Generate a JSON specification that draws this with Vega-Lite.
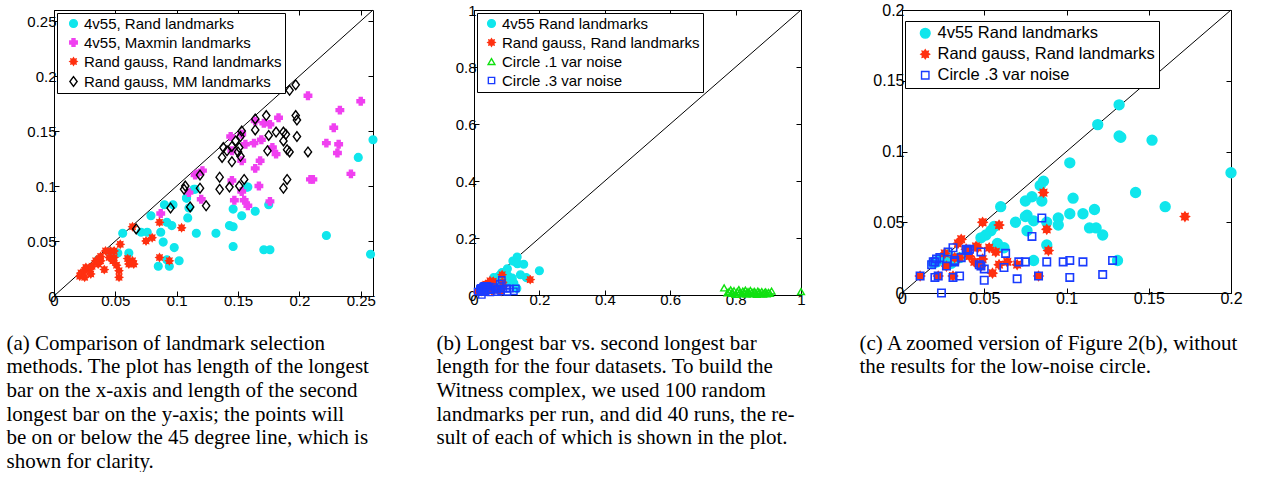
{
"$schema": "https://vega.github.io/schema/vega-lite/v6.json",
"padding": {"left": 5, "top": 1, "right": 0, "bottom": 0},
"background": "white",
"config": {
  "font": "Liberation Sans",
  "view": {"stroke": "black", "strokeWidth": 1},
  "axis": {"grid": false, "domainColor": "black", "tickColor": "black", "labelColor": "black", "labelFontSize": 15, "labelFont": "Liberation Sans", "tickSize": -5, "labelFlush": false, "labelOverlap": false},
  "axisX": {"labelPadding": 2},
  "axisY": {"labelPadding": 3},
  "legend": {"labelLimit": 400},
  "line": {"clip": true}
},
"datasets": {
  "a": [
    {"s":"4v55, Rand landmarks","x":0.036,"y":0.033},{"s":"4v55, Rand landmarks","x":0.052,"y":0.039},{"s":"4v55, Rand landmarks","x":0.061,"y":0.039},{"s":"4v55, Rand landmarks","x":0.056,"y":0.057},{"s":"4v55, Rand landmarks","x":0.071,"y":0.058},{"s":"4v55, Rand landmarks","x":0.076,"y":0.058},{"s":"4v55, Rand landmarks","x":0.079,"y":0.073},{"s":"4v55, Rand landmarks","x":0.087,"y":0.058},{"s":"4v55, Rand landmarks","x":0.089,"y":0.049},{"s":"4v55, Rand landmarks","x":0.092,"y":0.067},{"s":"4v55, Rand landmarks","x":0.096,"y":0.064},{"s":"4v55, Rand landmarks","x":0.090,"y":0.083},{"s":"4v55, Rand landmarks","x":0.097,"y":0.083},{"s":"4v55, Rand landmarks","x":0.108,"y":0.089},{"s":"4v55, Rand landmarks","x":0.109,"y":0.071},{"s":"4v55, Rand landmarks","x":0.110,"y":0.080},{"s":"4v55, Rand landmarks","x":0.116,"y":0.057},{"s":"4v55, Rand landmarks","x":0.098,"y":0.044},{"s":"4v55, Rand landmarks","x":0.102,"y":0.032},{"s":"4v55, Rand landmarks","x":0.092,"y":0.033},{"s":"4v55, Rand landmarks","x":0.085,"y":0.027},{"s":"4v55, Rand landmarks","x":0.094,"y":0.027},{"s":"4v55, Rand landmarks","x":0.132,"y":0.057},{"s":"4v55, Rand landmarks","x":0.143,"y":0.064},{"s":"4v55, Rand landmarks","x":0.146,"y":0.079},{"s":"4v55, Rand landmarks","x":0.153,"y":0.073},{"s":"4v55, Rand landmarks","x":0.164,"y":0.077},{"s":"4v55, Rand landmarks","x":0.175,"y":0.083},{"s":"4v55, Rand landmarks","x":0.158,"y":0.099},{"s":"4v55, Rand landmarks","x":0.146,"y":0.063},{"s":"4v55, Rand landmarks","x":0.146,"y":0.045},{"s":"4v55, Rand landmarks","x":0.171,"y":0.042},{"s":"4v55, Rand landmarks","x":0.176,"y":0.042},{"s":"4v55, Rand landmarks","x":0.222,"y":0.055},{"s":"4v55, Rand landmarks","x":0.258,"y":0.038},{"s":"4v55, Rand landmarks","x":0.115,"y":0.097},{"s":"4v55, Rand landmarks","x":0.260,"y":0.142},{"s":"4v55, Rand landmarks","x":0.248,"y":0.126},{"s":"4v55, Rand landmarks","x":0.045,"y":0.040},{"s":"4v55, Rand landmarks","x":0.114,"y":0.097},{"s":"4v55, Rand landmarks","x":0.157,"y":0.099},{"s":"4v55, Rand landmarks","x":0.108,"y":0.089},
    {"s":"4v55, Maxmin landmarks","x":0.207,"y":0.182},{"s":"4v55, Maxmin landmarks","x":0.250,"y":0.177},{"s":"4v55, Maxmin landmarks","x":0.233,"y":0.169},{"s":"4v55, Maxmin landmarks","x":0.228,"y":0.153},{"s":"4v55, Maxmin landmarks","x":0.222,"y":0.139},{"s":"4v55, Maxmin landmarks","x":0.232,"y":0.138},{"s":"4v55, Maxmin landmarks","x":0.231,"y":0.130},{"s":"4v55, Maxmin landmarks","x":0.242,"y":0.111},{"s":"4v55, Maxmin landmarks","x":0.211,"y":0.106},{"s":"4v55, Maxmin landmarks","x":0.183,"y":0.162},{"s":"4v55, Maxmin landmarks","x":0.176,"y":0.156},{"s":"4v55, Maxmin landmarks","x":0.171,"y":0.157},{"s":"4v55, Maxmin landmarks","x":0.164,"y":0.159},{"s":"4v55, Maxmin landmarks","x":0.169,"y":0.142},{"s":"4v55, Maxmin landmarks","x":0.163,"y":0.139},{"s":"4v55, Maxmin landmarks","x":0.156,"y":0.138},{"s":"4v55, Maxmin landmarks","x":0.153,"y":0.147},{"s":"4v55, Maxmin landmarks","x":0.144,"y":0.145},{"s":"4v55, Maxmin landmarks","x":0.168,"y":0.123},{"s":"4v55, Maxmin landmarks","x":0.164,"y":0.116},{"s":"4v55, Maxmin landmarks","x":0.153,"y":0.123},{"s":"4v55, Maxmin landmarks","x":0.178,"y":0.135},{"s":"4v55, Maxmin landmarks","x":0.181,"y":0.129},{"s":"4v55, Maxmin landmarks","x":0.145,"y":0.105},{"s":"4v55, Maxmin landmarks","x":0.121,"y":0.114},{"s":"4v55, Maxmin landmarks","x":0.115,"y":0.110},{"s":"4v55, Maxmin landmarks","x":0.145,"y":0.132},{"s":"4v55, Maxmin landmarks","x":0.153,"y":0.095},{"s":"4v55, Maxmin landmarks","x":0.147,"y":0.087},{"s":"4v55, Maxmin landmarks","x":0.155,"y":0.087},{"s":"4v55, Maxmin landmarks","x":0.158,"y":0.082},{"s":"4v55, Maxmin landmarks","x":0.176,"y":0.086},{"s":"4v55, Maxmin landmarks","x":0.120,"y":0.088},{"s":"4v55, Maxmin landmarks","x":0.110,"y":0.094},{"s":"4v55, Maxmin landmarks","x":0.087,"y":0.075},{"s":"4v55, Maxmin landmarks","x":0.167,"y":0.100},{"s":"4v55, Maxmin landmarks","x":0.117,"y":0.111},{"s":"4v55, Maxmin landmarks","x":0.209,"y":0.106},
    {"s":"Rand gauss, Rand landmarks","x":0.021,"y":0.018},{"s":"Rand gauss, Rand landmarks","x":0.022,"y":0.021},{"s":"Rand gauss, Rand landmarks","x":0.025,"y":0.023},{"s":"Rand gauss, Rand landmarks","x":0.029,"y":0.024},{"s":"Rand gauss, Rand landmarks","x":0.030,"y":0.020},{"s":"Rand gauss, Rand landmarks","x":0.026,"y":0.026},{"s":"Rand gauss, Rand landmarks","x":0.031,"y":0.027},{"s":"Rand gauss, Rand landmarks","x":0.034,"y":0.032},{"s":"Rand gauss, Rand landmarks","x":0.037,"y":0.034},{"s":"Rand gauss, Rand landmarks","x":0.038,"y":0.036},{"s":"Rand gauss, Rand landmarks","x":0.036,"y":0.029},{"s":"Rand gauss, Rand landmarks","x":0.041,"y":0.024},{"s":"Rand gauss, Rand landmarks","x":0.042,"y":0.041},{"s":"Rand gauss, Rand landmarks","x":0.046,"y":0.041},{"s":"Rand gauss, Rand landmarks","x":0.049,"y":0.041},{"s":"Rand gauss, Rand landmarks","x":0.045,"y":0.035},{"s":"Rand gauss, Rand landmarks","x":0.049,"y":0.035},{"s":"Rand gauss, Rand landmarks","x":0.048,"y":0.032},{"s":"Rand gauss, Rand landmarks","x":0.051,"y":0.028},{"s":"Rand gauss, Rand landmarks","x":0.053,"y":0.023},{"s":"Rand gauss, Rand landmarks","x":0.053,"y":0.017},{"s":"Rand gauss, Rand landmarks","x":0.054,"y":0.047},{"s":"Rand gauss, Rand landmarks","x":0.060,"y":0.034},{"s":"Rand gauss, Rand landmarks","x":0.064,"y":0.032},{"s":"Rand gauss, Rand landmarks","x":0.065,"y":0.029},{"s":"Rand gauss, Rand landmarks","x":0.061,"y":0.029},{"s":"Rand gauss, Rand landmarks","x":0.064,"y":0.063},{"s":"Rand gauss, Rand landmarks","x":0.075,"y":0.050},{"s":"Rand gauss, Rand landmarks","x":0.080,"y":0.053},{"s":"Rand gauss, Rand landmarks","x":0.086,"y":0.067},{"s":"Rand gauss, Rand landmarks","x":0.086,"y":0.035},{"s":"Rand gauss, Rand landmarks","x":0.094,"y":0.032},{"s":"Rand gauss, Rand landmarks","x":0.104,"y":0.062},{"s":"Rand gauss, Rand landmarks","x":0.038,"y":0.032},{"s":"Rand gauss, Rand landmarks","x":0.025,"y":0.017},
    {"s":"Rand gauss, MM landmarks","x":0.197,"y":0.192},{"s":"Rand gauss, MM landmarks","x":0.192,"y":0.187},{"s":"Rand gauss, MM landmarks","x":0.173,"y":0.164},{"s":"Rand gauss, MM landmarks","x":0.197,"y":0.164},{"s":"Rand gauss, MM landmarks","x":0.198,"y":0.160},{"s":"Rand gauss, MM landmarks","x":0.164,"y":0.161},{"s":"Rand gauss, MM landmarks","x":0.164,"y":0.151},{"s":"Rand gauss, MM landmarks","x":0.153,"y":0.150},{"s":"Rand gauss, MM landmarks","x":0.152,"y":0.145},{"s":"Rand gauss, MM landmarks","x":0.175,"y":0.146},{"s":"Rand gauss, MM landmarks","x":0.181,"y":0.149},{"s":"Rand gauss, MM landmarks","x":0.187,"y":0.149},{"s":"Rand gauss, MM landmarks","x":0.189,"y":0.147},{"s":"Rand gauss, MM landmarks","x":0.187,"y":0.141},{"s":"Rand gauss, MM landmarks","x":0.198,"y":0.145},{"s":"Rand gauss, MM landmarks","x":0.148,"y":0.141},{"s":"Rand gauss, MM landmarks","x":0.145,"y":0.136},{"s":"Rand gauss, MM landmarks","x":0.141,"y":0.132},{"s":"Rand gauss, MM landmarks","x":0.138,"y":0.135},{"s":"Rand gauss, MM landmarks","x":0.151,"y":0.135},{"s":"Rand gauss, MM landmarks","x":0.150,"y":0.131},{"s":"Rand gauss, MM landmarks","x":0.152,"y":0.127},{"s":"Rand gauss, MM landmarks","x":0.137,"y":0.126},{"s":"Rand gauss, MM landmarks","x":0.145,"y":0.122},{"s":"Rand gauss, MM landmarks","x":0.174,"y":0.132},{"s":"Rand gauss, MM landmarks","x":0.190,"y":0.133},{"s":"Rand gauss, MM landmarks","x":0.192,"y":0.131},{"s":"Rand gauss, MM landmarks","x":0.207,"y":0.131},{"s":"Rand gauss, MM landmarks","x":0.119,"y":0.110},{"s":"Rand gauss, MM landmarks","x":0.119,"y":0.098},{"s":"Rand gauss, MM landmarks","x":0.135,"y":0.108},{"s":"Rand gauss, MM landmarks","x":0.135,"y":0.097},{"s":"Rand gauss, MM landmarks","x":0.143,"y":0.099},{"s":"Rand gauss, MM landmarks","x":0.155,"y":0.106},{"s":"Rand gauss, MM landmarks","x":0.151,"y":0.100},{"s":"Rand gauss, MM landmarks","x":0.190,"y":0.106},{"s":"Rand gauss, MM landmarks","x":0.187,"y":0.098},{"s":"Rand gauss, MM landmarks","x":0.107,"y":0.100},{"s":"Rand gauss, MM landmarks","x":0.106,"y":0.097},{"s":"Rand gauss, MM landmarks","x":0.111,"y":0.081},{"s":"Rand gauss, MM landmarks","x":0.124,"y":0.082},{"s":"Rand gauss, MM landmarks","x":0.095,"y":0.080},{"s":"Rand gauss, MM landmarks","x":0.067,"y":0.061}
  ],
  "bc": [
    {"s":"4v55 Rand landmarks","x":0.200,"y":0.085},{"s":"4v55 Rand landmarks","x":0.102,"y":0.092},{"s":"4v55 Rand landmarks","x":0.142,"y":0.071},{"s":"4v55 Rand landmarks","x":0.160,"y":0.061},{"s":"4v55 Rand landmarks","x":0.104,"y":0.067},{"s":"4v55 Rand landmarks","x":0.117,"y":0.059},{"s":"4v55 Rand landmarks","x":0.110,"y":0.056},{"s":"4v55 Rand landmarks","x":0.102,"y":0.056},{"s":"4v55 Rand landmarks","x":0.114,"y":0.046},{"s":"4v55 Rand landmarks","x":0.118,"y":0.046},{"s":"4v55 Rand landmarks","x":0.122,"y":0.041},{"s":"4v55 Rand landmarks","x":0.095,"y":0.053},{"s":"4v55 Rand landmarks","x":0.095,"y":0.048},{"s":"4v55 Rand landmarks","x":0.086,"y":0.079},{"s":"4v55 Rand landmarks","x":0.084,"y":0.076},{"s":"4v55 Rand landmarks","x":0.079,"y":0.068},{"s":"4v55 Rand landmarks","x":0.075,"y":0.065},{"s":"4v55 Rand landmarks","x":0.085,"y":0.065},{"s":"4v55 Rand landmarks","x":0.076,"y":0.055},{"s":"4v55 Rand landmarks","x":0.075,"y":0.054},{"s":"4v55 Rand landmarks","x":0.069,"y":0.050},{"s":"4v55 Rand landmarks","x":0.080,"y":0.051},{"s":"4v55 Rand landmarks","x":0.076,"y":0.044},{"s":"4v55 Rand landmarks","x":0.088,"y":0.050},{"s":"4v55 Rand landmarks","x":0.088,"y":0.034},{"s":"4v55 Rand landmarks","x":0.060,"y":0.061},{"s":"4v55 Rand landmarks","x":0.056,"y":0.047},{"s":"4v55 Rand landmarks","x":0.054,"y":0.044},{"s":"4v55 Rand landmarks","x":0.051,"y":0.041},{"s":"4v55 Rand landmarks","x":0.048,"y":0.039},{"s":"4v55 Rand landmarks","x":0.058,"y":0.035},{"s":"4v55 Rand landmarks","x":0.062,"y":0.032},{"s":"4v55 Rand landmarks","x":0.080,"y":0.023},{"s":"4v55 Rand landmarks","x":0.131,"y":0.023},{"s":"4v55 Rand landmarks","x":0.132,"y":0.133},{"s":"4v55 Rand landmarks","x":0.119,"y":0.119},{"s":"4v55 Rand landmarks","x":0.133,"y":0.110},{"s":"4v55 Rand landmarks","x":0.132,"y":0.111},{"s":"4v55 Rand landmarks","x":0.152,"y":0.108},{"s":"4v55 Rand landmarks","x":0.019,"y":0.021},{"s":"4v55 Rand landmarks","x":0.021,"y":0.022},{"s":"4v55 Rand landmarks","x":0.023,"y":0.024},{"s":"4v55 Rand landmarks","x":0.025,"y":0.025},{"s":"4v55 Rand landmarks","x":0.028,"y":0.027},{"s":"4v55 Rand landmarks","x":0.035,"y":0.025},{"s":"4v55 Rand landmarks","x":0.030,"y":0.021},
    {"s":"Rand gauss, Rand landmarks","x":0.172,"y":0.054},{"s":"Rand gauss, Rand landmarks","x":0.086,"y":0.071},{"s":"Rand gauss, Rand landmarks","x":0.088,"y":0.045},{"s":"Rand gauss, Rand landmarks","x":0.089,"y":0.030},{"s":"Rand gauss, Rand landmarks","x":0.059,"y":0.048},{"s":"Rand gauss, Rand landmarks","x":0.049,"y":0.050},{"s":"Rand gauss, Rand landmarks","x":0.036,"y":0.038},{"s":"Rand gauss, Rand landmarks","x":0.053,"y":0.032},{"s":"Rand gauss, Rand landmarks","x":0.057,"y":0.029},{"s":"Rand gauss, Rand landmarks","x":0.064,"y":0.022},{"s":"Rand gauss, Rand landmarks","x":0.059,"y":0.020},{"s":"Rand gauss, Rand landmarks","x":0.055,"y":0.014},{"s":"Rand gauss, Rand landmarks","x":0.070,"y":0.020},{"s":"Rand gauss, Rand landmarks","x":0.083,"y":0.012},{"s":"Rand gauss, Rand landmarks","x":0.049,"y":0.024},{"s":"Rand gauss, Rand landmarks","x":0.041,"y":0.026},{"s":"Rand gauss, Rand landmarks","x":0.044,"y":0.022},{"s":"Rand gauss, Rand landmarks","x":0.046,"y":0.032},{"s":"Rand gauss, Rand landmarks","x":0.039,"y":0.031},{"s":"Rand gauss, Rand landmarks","x":0.032,"y":0.025},{"s":"Rand gauss, Rand landmarks","x":0.027,"y":0.019},{"s":"Rand gauss, Rand landmarks","x":0.011,"y":0.012},{"s":"Rand gauss, Rand landmarks","x":0.031,"y":0.012},{"s":"Rand gauss, Rand landmarks","x":0.035,"y":0.025},{"s":"Rand gauss, Rand landmarks","x":0.022,"y":0.012},{"s":"Rand gauss, Rand landmarks","x":0.045,"y":0.033},{"s":"Rand gauss, Rand landmarks","x":0.026,"y":0.028},{"s":"Rand gauss, Rand landmarks","x":0.048,"y":0.019},{"s":"Rand gauss, Rand landmarks","x":0.034,"y":0.035},{"s":"Rand gauss, Rand landmarks","x":0.040,"y":0.030},
    {"s":"Circle .1 var noise","x":0.765,"y":0.025},{"s":"Circle .1 var noise","x":0.780,"y":0.012},{"s":"Circle .1 var noise","x":0.785,"y":0.018},{"s":"Circle .1 var noise","x":0.790,"y":0.006},{"s":"Circle .1 var noise","x":0.795,"y":0.015},{"s":"Circle .1 var noise","x":0.800,"y":0.002},{"s":"Circle .1 var noise","x":0.805,"y":0.012},{"s":"Circle .1 var noise","x":0.810,"y":0.019},{"s":"Circle .1 var noise","x":0.812,"y":0.008},{"s":"Circle .1 var noise","x":0.818,"y":0.004},{"s":"Circle .1 var noise","x":0.822,"y":0.014},{"s":"Circle .1 var noise","x":0.826,"y":0.010},{"s":"Circle .1 var noise","x":0.830,"y":0.017},{"s":"Circle .1 var noise","x":0.834,"y":0.003},{"s":"Circle .1 var noise","x":0.838,"y":0.012},{"s":"Circle .1 var noise","x":0.842,"y":0.007},{"s":"Circle .1 var noise","x":0.845,"y":0.016},{"s":"Circle .1 var noise","x":0.850,"y":0.010},{"s":"Circle .1 var noise","x":0.853,"y":0.004},{"s":"Circle .1 var noise","x":0.857,"y":0.013},{"s":"Circle .1 var noise","x":0.860,"y":0.008},{"s":"Circle .1 var noise","x":0.865,"y":0.002},{"s":"Circle .1 var noise","x":0.868,"y":0.014},{"s":"Circle .1 var noise","x":0.872,"y":0.009},{"s":"Circle .1 var noise","x":0.876,"y":0.005},{"s":"Circle .1 var noise","x":0.880,"y":0.012},{"s":"Circle .1 var noise","x":0.884,"y":0.003},{"s":"Circle .1 var noise","x":0.888,"y":0.008},{"s":"Circle .1 var noise","x":0.892,"y":0.011},{"s":"Circle .1 var noise","x":0.895,"y":0.004},{"s":"Circle .1 var noise","x":0.900,"y":0.009},{"s":"Circle .1 var noise","x":0.905,"y":0.006},{"s":"Circle .1 var noise","x":0.910,"y":0.014},{"s":"Circle .1 var noise","x":0.790,"y":0.009},{"s":"Circle .1 var noise","x":0.828,"y":0.006},{"s":"Circle .1 var noise","x":0.870,"y":0.006},{"s":"Circle .1 var noise","x":1.000,"y":0.012},{"s":"Circle .1 var noise","x":0.775,"y":0.008},
    {"s":"Circle .3 var noise","x":0.085,"y":0.053},{"s":"Circle .3 var noise","x":0.079,"y":0.040},{"s":"Circle .3 var noise","x":0.048,"y":0.029},{"s":"Circle .3 var noise","x":0.063,"y":0.028},{"s":"Circle .3 var noise","x":0.048,"y":0.019},{"s":"Circle .3 var noise","x":0.050,"y":0.017},{"s":"Circle .3 var noise","x":0.050,"y":0.009},{"s":"Circle .3 var noise","x":0.062,"y":0.018},{"s":"Circle .3 var noise","x":0.071,"y":0.022},{"s":"Circle .3 var noise","x":0.075,"y":0.022},{"s":"Circle .3 var noise","x":0.088,"y":0.022},{"s":"Circle .3 var noise","x":0.098,"y":0.022},{"s":"Circle .3 var noise","x":0.102,"y":0.023},{"s":"Circle .3 var noise","x":0.110,"y":0.022},{"s":"Circle .3 var noise","x":0.128,"y":0.023},{"s":"Circle .3 var noise","x":0.070,"y":0.010},{"s":"Circle .3 var noise","x":0.083,"y":0.012},{"s":"Circle .3 var noise","x":0.102,"y":0.011},{"s":"Circle .3 var noise","x":0.122,"y":0.013},{"s":"Circle .3 var noise","x":0.024,"y":0.000},{"s":"Circle .3 var noise","x":0.011,"y":0.012},{"s":"Circle .3 var noise","x":0.020,"y":0.011},{"s":"Circle .3 var noise","x":0.022,"y":0.012},{"s":"Circle .3 var noise","x":0.031,"y":0.011},{"s":"Circle .3 var noise","x":0.035,"y":0.012},{"s":"Circle .3 var noise","x":0.032,"y":0.023},{"s":"Circle .3 var noise","x":0.032,"y":0.022},{"s":"Circle .3 var noise","x":0.036,"y":0.025},{"s":"Circle .3 var noise","x":0.039,"y":0.031},{"s":"Circle .3 var noise","x":0.040,"y":0.030},{"s":"Circle .3 var noise","x":0.031,"y":0.032},{"s":"Circle .3 var noise","x":0.028,"y":0.029},{"s":"Circle .3 var noise","x":0.027,"y":0.019},{"s":"Circle .3 var noise","x":0.020,"y":0.022},{"s":"Circle .3 var noise","x":0.018,"y":0.020},{"s":"Circle .3 var noise","x":0.021,"y":0.024},{"s":"Circle .3 var noise","x":0.023,"y":0.025},{"s":"Circle .3 var noise","x":0.019,"y":0.022},{"s":"Circle .3 var noise","x":0.047,"y":0.020},{"s":"Circle .3 var noise","x":0.041,"y":0.031}
  ],
  "diag_a": [{"x":0,"y":0},{"x":0.26,"y":0.26}],
  "diag_b": [{"x":0,"y":0},{"x":1,"y":1}],
  "diag_c": [{"x":0,"y":0},{"x":0.2,"y":0.2}]
},
"hconcat": [
  {
    "width": 319, "height": 286,
    "layer": [
      {"data": {"name": "diag_a"}, "mark": {"type": "line", "color": "black", "strokeWidth": 1},
       "encoding": {
         "x": {"field": "x", "type": "quantitative", "scale": {"domain": [0, 0.26], "nice": false}, "axis": {"orient": "top", "labels": false, "domain": false, "title": null, "values": [0,0.05,0.1,0.15,0.2,0.25]}},
         "y": {"field": "y", "type": "quantitative", "scale": {"domain": [0, 0.26], "nice": false}, "axis": {"orient": "right", "labels": false, "domain": false, "title": null, "values": [0,0.05,0.1,0.15,0.2,0.25]}}
       }},
      {"data": {"name": "a"}, "mark": {"type": "point", "strokeWidth": 1.4, "opacity": 1},
       "encoding": {
         "x": {"field": "x", "type": "quantitative", "scale": {"domain": [0, 0.26], "nice": false},
               "axis": {"orient": "bottom", "values": [0,0.05,0.1,0.15,0.2,0.25], "format": "~g",
                 "title": ["(a) Comparison of landmark selection", "methods. The plot has length of the longest", "bar on the x-axis and length of the second", "longest bar on the y-axis; the points will", "be on or below the 45 degree line, which is", "shown for clarity."],
                 "titleFont": "Liberation Serif", "titleFontSize": 21, "titleFontWeight": "normal", "titleColor": "black", "titleAlign": "left", "titleAnchor": "start", "titleBaseline": "top", "titleX": -48, "titleY": 36, "titleLineHeight": 23.7}},
         "y": {"field": "y", "type": "quantitative", "scale": {"domain": [0, 0.26], "nice": false},
               "axis": {"orient": "left", "values": [0,0.05,0.1,0.15,0.2,0.25], "format": "~g", "title": null}},
         "fill": {"field": "s", "type": "nominal",
                  "scale": {"domain": ["4v55, Rand landmarks","4v55, Maxmin landmarks","Rand gauss, Rand landmarks","Rand gauss, MM landmarks"], "range": ["#10e6ec","#f040f0","#ff3010","transparent"]},
                  "legend": {"title": null, "orient": "top-left", "offset": 3, "strokeColor": "black", "fillColor": "white", "padding": 3, "rowPadding": 3, "labelFontSize": 15, "labelColor": "black", "symbolOffset": 6, "labelOffset": 3, "symbolStrokeWidth": 1.4}},
         "stroke": {"field": "s", "type": "nominal",
                  "scale": {"domain": ["4v55, Rand landmarks","4v55, Maxmin landmarks","Rand gauss, Rand landmarks","Rand gauss, MM landmarks"], "range": ["#10e6ec","#f040f0","#ff3010","black"]}},
         "shape": {"field": "s", "type": "nominal",
                  "scale": {"domain": ["4v55, Rand landmarks","4v55, Maxmin landmarks","Rand gauss, Rand landmarks","Rand gauss, MM landmarks"], "range": ["circle","cross","M1,0L0.6,0.25L0.71,0.71L0.25,0.6L0,1L-0.25,0.6L-0.71,0.71L-0.6,0.25L-1,0L-0.6,-0.25L-0.71,-0.71L-0.25,-0.6L0,-1L0.25,-0.6L0.71,-0.71L0.6,-0.25Z","M0,-1.4L1.05,0L0,1.4L-1.05,0Z"]}},
         "size": {"field": "s", "type": "nominal",
                  "scale": {"domain": ["4v55, Rand landmarks","4v55, Maxmin landmarks","Rand gauss, Rand landmarks","Rand gauss, MM landmarks"], "range": [60, 48, 42, 60]}}
       }}
    ],
    "resolve": {"axis": {"x": "independent", "y": "independent"}}
  },
  {
    "width": 327, "height": 285,
    "layer": [
      {"data": {"name": "diag_b"}, "mark": {"type": "line", "color": "black", "strokeWidth": 1},
       "encoding": {
         "x": {"field": "x", "type": "quantitative", "scale": {"domain": [0, 1], "nice": false}, "axis": {"orient": "top", "labels": false, "domain": false, "title": null, "values": [0,0.2,0.4,0.6,0.8,1]}},
         "y": {"field": "y", "type": "quantitative", "scale": {"domain": [0, 1], "nice": false}, "axis": {"orient": "right", "labels": false, "domain": false, "title": null, "values": [0,0.2,0.4,0.6,0.8,1]}}
       }},
      {"data": {"name": "bc"}, "mark": {"type": "point", "strokeWidth": 1.4, "opacity": 1},
       "encoding": {
         "x": {"field": "x", "type": "quantitative", "scale": {"domain": [0, 1], "nice": false},
               "axis": {"orient": "bottom", "values": [0,0.2,0.4,0.6,0.8,1], "format": "~g",
                 "title": ["(b) Longest bar vs.  second longest bar", "length for the four datasets.  To build the", "Witness complex, we used 100 random", "landmarks per run, and did 40 runs, the re-", "sult of each of which is shown in the plot."],
                 "titleFont": "Liberation Serif", "titleFontSize": 21, "titleFontWeight": "normal", "titleColor": "black", "titleAlign": "left", "titleAnchor": "start", "titleBaseline": "top", "titleX": -38, "titleY": 37, "titleLineHeight": 23.7}},
         "y": {"field": "y", "type": "quantitative", "scale": {"domain": [0, 1], "nice": false},
               "axis": {"orient": "left", "values": [0,0.2,0.4,0.6,0.8,1], "format": "~g", "title": null}},
         "fill": {"field": "s", "type": "nominal",
                  "scale": {"domain": ["4v55 Rand landmarks","Rand gauss, Rand landmarks","Circle .1 var noise","Circle .3 var noise"], "range": ["#10e6ec","#ff3010","transparent","transparent"]},
                  "legend": {"title": null, "orient": "top-left", "offset": 3, "strokeColor": "black", "fillColor": "white", "padding": 3, "rowPadding": 3, "labelFontSize": 15, "labelColor": "black", "symbolOffset": 4, "labelOffset": 3, "symbolStrokeWidth": 1.4}},
         "stroke": {"field": "s", "type": "nominal",
                  "scale": {"domain": ["4v55 Rand landmarks","Rand gauss, Rand landmarks","Circle .1 var noise","Circle .3 var noise"], "range": ["#10e6ec","#ff3010","#10e010","#1a3cff"]}},
         "shape": {"field": "s", "type": "nominal",
                  "scale": {"domain": ["4v55 Rand landmarks","Rand gauss, Rand landmarks","Circle .1 var noise","Circle .3 var noise"], "range": ["circle","M1,0L0.6,0.25L0.71,0.71L0.25,0.6L0,1L-0.25,0.6L-0.71,0.71L-0.6,0.25L-1,0L-0.6,-0.25L-0.71,-0.71L-0.25,-0.6L0,-1L0.25,-0.6L0.71,-0.71L0.6,-0.25Z","triangle-up","square"]}},
         "size": {"field": "s", "type": "nominal",
                  "scale": {"domain": ["4v55 Rand landmarks","Rand gauss, Rand landmarks","Circle .1 var noise","Circle .3 var noise"], "range": [60, 40, 70, 60]}}
       }}
    ],
    "resolve": {"axis": {"x": "independent", "y": "independent"}}
  },
  {
    "width": 329, "height": 283,
    "layer": [
      {"data": {"name": "diag_c"}, "mark": {"type": "line", "color": "black", "strokeWidth": 1},
       "encoding": {
         "x": {"field": "x", "type": "quantitative", "scale": {"domain": [0, 0.2], "nice": false}, "axis": {"orient": "top", "labels": false, "domain": false, "title": null, "values": [0,0.05,0.1,0.15,0.2]}},
         "y": {"field": "y", "type": "quantitative", "scale": {"domain": [0, 0.2], "nice": false}, "axis": {"orient": "right", "labels": false, "domain": false, "title": null, "values": [0,0.05,0.1,0.15,0.2]}}
       }},
      {"data": {"name": "bc"}, "transform": [{"filter": "datum.s !== 'Circle .1 var noise'"}],
       "mark": {"type": "point", "strokeWidth": 1.6, "opacity": 1},
       "encoding": {
         "x": {"field": "x", "type": "quantitative", "scale": {"domain": [0, 0.2], "nice": false},
               "axis": {"orient": "bottom", "values": [0,0.05,0.1,0.15,0.2], "format": "~g", "labelFontSize": 16,
                 "title": ["(c) A zoomed version of Figure 2(b), without", "the results for the low-noise circle."],
                 "titleFont": "Liberation Serif", "titleFontSize": 21, "titleFontWeight": "normal", "titleColor": "black", "titleAlign": "left", "titleAnchor": "start", "titleBaseline": "top", "titleX": -43, "titleY": 39, "titleLineHeight": 23.7}},
         "y": {"field": "y", "type": "quantitative", "scale": {"domain": [0, 0.2], "nice": false},
               "axis": {"orient": "left", "values": [0,0.05,0.1,0.15,0.2], "format": "~g", "title": null, "labelFontSize": 16}},
         "fill": {"field": "s", "type": "nominal",
                  "scale": {"domain": ["4v55 Rand landmarks","Rand gauss, Rand landmarks","Circle .3 var noise"], "range": ["#10e6ec","#ff3010","transparent"]},
                  "legend": {"title": null, "orient": "none", "legendX": 3, "legendY": 11, "strokeColor": "black", "fillColor": "white", "padding": 4, "rowPadding": 4, "labelFontSize": 16.5, "labelColor": "black", "symbolOffset": 8, "labelOffset": 4, "symbolStrokeWidth": 1.4}},
         "stroke": {"field": "s", "type": "nominal",
                  "scale": {"domain": ["4v55 Rand landmarks","Rand gauss, Rand landmarks","Circle .3 var noise"], "range": ["#10e6ec","#ff3010","#1a3cff"]}},
         "shape": {"field": "s", "type": "nominal",
                  "scale": {"domain": ["4v55 Rand landmarks","Rand gauss, Rand landmarks","Circle .3 var noise"], "range": ["circle","M1,0L0.6,0.25L0.71,0.71L0.25,0.6L0,1L-0.25,0.6L-0.71,0.71L-0.6,0.25L-1,0L-0.6,-0.25L-0.71,-0.71L-0.25,-0.6L0,-1L0.25,-0.6L0.71,-0.71L0.6,-0.25Z","square"]}},
         "size": {"field": "s", "type": "nominal",
                  "scale": {"domain": ["4v55 Rand landmarks","Rand gauss, Rand landmarks","Circle .3 var noise"], "range": [95, 55, 80]}}
       }}
    ],
    "resolve": {"axis": {"x": "independent", "y": "independent"}}
  }
],
"spacing": 101,
"bounds": "flush",
"resolve": {"scale": {"x": "independent", "y": "independent", "fill": "independent", "stroke": "independent", "shape": "independent", "size": "independent"}, "legend": {"fill": "independent", "stroke": "independent", "shape": "independent", "size": "independent"}}
}
